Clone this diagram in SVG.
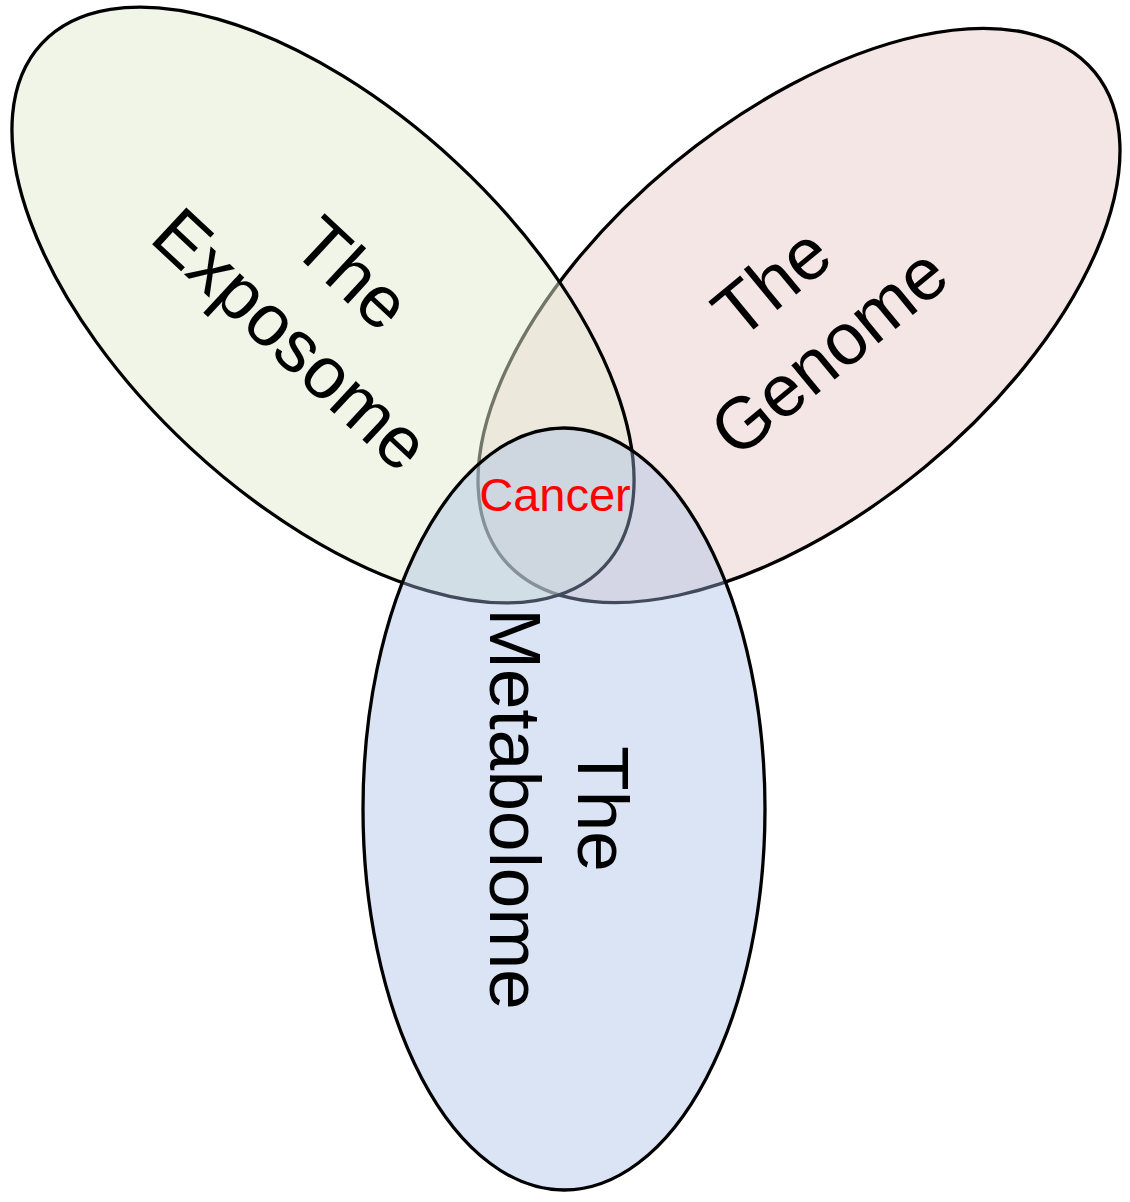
<svg xmlns="http://www.w3.org/2000/svg" width="1130" height="1202" viewBox="0 0 1130 1202">
<style>
.shape{stroke:#000;stroke-width:3.3}
.lbl{font-family:"Liberation Sans",Arial,Helvetica,sans-serif;font-size:73px;fill:#000;text-anchor:middle}
.cancer{font-family:"Liberation Sans",Arial,Helvetica,sans-serif;font-size:47px;fill:#ff0000;text-anchor:middle}
</style>
<rect width="1130" height="1202" fill="#ffffff"/>
<g id="genome" transform="translate(799,315.5) rotate(-39.5)">
<ellipse class="shape" cx="0" cy="0" rx="383" ry="197" fill="#f5e6e6"/>
<text class="lbl" x="0" y="-18">The</text>
<text class="lbl" x="0" y="72">Genome</text>
</g>
<g id="exposome" transform="translate(323,305) rotate(42.9)">
<ellipse class="shape" cx="0" cy="0" rx="384" ry="195" fill="rgb(227,235,209)" fill-opacity="0.5"/>
<text class="lbl" x="0" y="-18">The</text>
<text class="lbl" x="0" y="72">Exposome</text>
</g>
<g id="metabolome" transform="translate(564,809) rotate(90)">
<ellipse class="shape" cx="0" cy="0" rx="381" ry="201" fill="rgb(162,187,227)" fill-opacity="0.4"/>
<text class="lbl" x="0" y="-14">The</text>
<text class="lbl" x="0" y="74">Metabolome</text>
</g>
<g id="connectors"></g>
<g id="cancer">
<text class="cancer" x="555" y="511">Cancer</text>
</g>
</svg>
